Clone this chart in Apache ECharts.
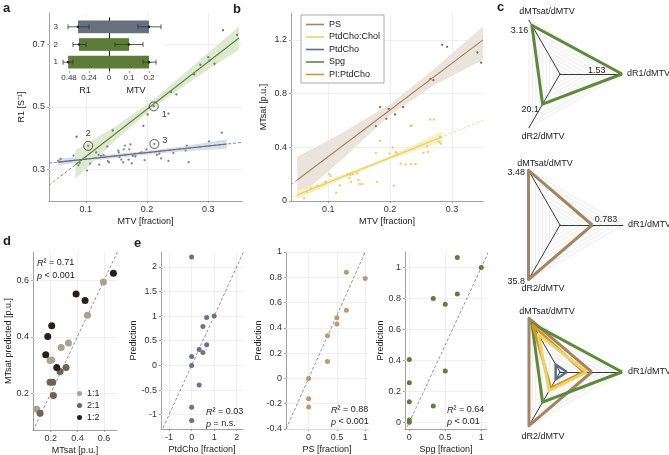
<!DOCTYPE html>
<html><head><meta charset="utf-8">
<script src="https://cdn.jsdelivr.net/npm/echarts@6/dist/echarts.min.js"></script>
<style>html,body{margin:0;padding:0;background:#fff}#c{width:669px;height:455px}</style>
</head><body><div id="c"></div>
<script>
// ================= DATA =================
// Panel a: R1 vs MTV
const aSpgMTV = [0.324,0.347,0.300,0.302,0.287,0.310,0.277,0.239,0.248,0.211,0.235,0.201,0.194,0.144,0.104,0.085];
const aSpgR1  = [0.745,0.730,0.659,0.648,0.635,0.638,0.604,0.548,0.540,0.502,0.479,0.476,0.440,0.425,0.376,0.405];
const aPtdMTV = [0.055,0.059,0.080,0.088,0.090,0.102,0.107,0.117,0.121,0.125,0.129,0.135,0.138,0.122,0.136,0.153,0.154,0.155,0.158,0.161,0.164,0.171,0.173,0.177,0.170,0.162,0.175,0.181,0.188,0.191,0.196,0.199,0.212,0.216,0.220,0.223,0.235,0.243,0.263,0.265,0.268,0.301,0.322];
const aPtdR1  = [0.328,0.334,0.345,0.314,0.321,0.297,0.319,0.355,0.347,0.344,0.347,0.374,0.323,0.316,0.327,0.361,0.355,0.340,0.332,0.323,0.377,0.365,0.381,0.344,0.332,0.365,0.320,0.342,0.353,0.355,0.330,0.365,0.382,0.347,0.351,0.336,0.328,0.353,0.361,0.377,0.324,0.390,0.418];
const aCircledMTV = [0.211, 0.104, 0.212];
const aCircledR1  = [0.502, 0.376, 0.382];
const aCircledLabels = ['1', '2', '3'];
const aSpgFitMTV = [0.083, 0.35];  const aSpgFitR1 = [0.316, 0.72];
const aSpgExtMTV = [0.04, 0.083];  const aSpgExtR1 = [0.25, 0.316];
const aSpgBandMTV = [0.083, 0.15, 0.21, 0.28, 0.35];
const aSpgBandLo  = [0.270, 0.396, 0.498, 0.594, 0.683];
const aSpgBandHi  = [0.362, 0.440, 0.522, 0.640, 0.757];
const aPtdFitMTV = [0.055, 0.33];  const aPtdFitR1 = [0.324, 0.382];
const aPtdExtMTV = [0.04, 0.355];  const aPtdExtR1 = [0.321, 0.387];
const aPtdBandMTV = [0.055, 0.12, 0.19, 0.26, 0.33];
const aPtdBandLo  = [0.314, 0.331, 0.346, 0.359, 0.367];
const aPtdBandHi  = [0.336, 0.345, 0.358, 0.375, 0.397];
const aMTVTicks = [0.1, 0.2, 0.3];
const aR1Ticks = [0.3, 0.5, 0.7];
// Panel a inset
const insetCats = ['1', '2', '3'];
const insetR1 = [0.49, 0.36, 0.372];
const insetR1Err = [[0.432, 0.552], [0.276, 0.432], [0.24, 0.492]];
const insetMTV = [0.2, 0.1, 0.2];
const insetMTVErr = [[0.17, 0.235], [0.03, 0.17], [0.145, 0.26]];
const insetR1Ticks = [0.24, 0.48];
const insetMTVTicks = [0, 0.1, 0.2];
// Panel b: MTsat vs MTV
const bPsMTV = [0.177,0.184,0.194,0.198,0.208,0.221,0.265,0.270,0.284,0.292,0.341,0.347];
const bPsMT  = [0.558,0.699,0.612,0.686,0.644,0.699,0.910,0.900,1.163,1.148,1.106,1.030];
const bCholMTV = [0.061,0.066,0.072,0.083,0.096,0.102,0.104,0.113,0.119,0.132,0.134,0.136,0.137,0.140,0.147,0.149,0.151,0.155,0.177,0.179,0.184,0.199,0.204,0.206,0.209,0.211,0.217,0.225,0.233,0.235,0.234,0.241,0.254,0.260,0.261,0.265,0.271,0.281,0.282,0.279];
const bCholMT  = [0.020,0.069,0.094,0.111,0.143,0.200,0.185,0.062,0.116,0.200,0.170,0.195,0.143,0.198,0.205,0.156,0.126,0.126,0.358,0.143,0.447,0.353,0.398,0.114,0.365,0.353,0.279,0.272,0.558,0.563,0.274,0.274,0.358,0.407,0.365,0.607,0.607,0.477,0.427,0.440];
const bPsFitMTV = [0.05, 0.35];  const bPsFitMT = [0.156, 1.2];
const bPsExtMTV = [0.04, 0.05];  const bPsExtMT = [0.121, 0.156];
const bPsBandMTV = [0.05, 0.12, 0.2, 0.27, 0.35];
const bPsBandLo  = [0.02, 0.30, 0.64, 0.86, 1.05];
const bPsBandHi  = [0.33, 0.50, 0.72, 0.98, 1.30];
const bCholFitMTV = [0.05, 0.284];  const bCholFitMT = [0.045, 0.478];
const bCholExtMTV = [0.04, 0.35];   const bCholExtMT = [0.026, 0.60];
const bCholBandMTV = [0.05, 0.12, 0.18, 0.24, 0.284];
const bCholBandLo  = [0.015, 0.16, 0.274, 0.375, 0.44];
const bCholBandHi  = [0.075, 0.19, 0.298, 0.42, 0.52];
const bMTVTicks = [0.1, 0.2, 0.3];
const bMTTicks = [0, 0.4, 0.8, 1.2];
const legendNames = ['PS', 'PtdCho:Chol', 'PtdCho', 'Spg', 'PI:PtdCho'];
// Panel c: radar
const radarIndicatorNames = ['dR1/dMTV', 'dMTsat/dMTV', 'dR2/dMTV'];
const radarMax = [1.53, 3.48, 35.8];
const radarSpg = [1.53, 3.16, 20.1];
const radarPS = [0.783, 3.48, 35.8];
const radarPIPtdCho = [0.58, 3.03, 10.7];
const radarCholPtdCho = [0.66, 2.44, 12.5];
const radarPtdCho = [0.17, 0.49, 5.0];
// Panel d
const dMeas11 = [0.095,0.595,0.475,0.278,0.333,0.195,0.208];
const dPred11 = [0.143,0.594,0.476,0.362,0.378,0.316,0.318];
const dMeas21 = [0.12,0.195,0.215,0.22,0.27,0.315];
const dPred21 = [0.129,0.239,0.239,0.192,0.277,0.291];
const dMeas12 = [0.67,0.39,0.4575,0.2075,0.1775,0.1625,0.245];
const dPred12 = [0.625,0.551,0.528,0.439,0.401,0.336,0.291];
const dTicks = [0.2, 0.4, 0.6];
// Panel e
const e1X = [0,0.667,1,0.5,0.667,0.333,0.5,0,0,0.333,0,0];
const e1Y = [2.2,0.97,1.0,0.79,0.42,0.32,0.26,0.18,0,-0.40,-0.85,-1.12];
const e2X = [0.667,1,0.667,0.5,0.5,0.333,0.333,0,0,0];
const e2Y = [0.84,0.79,0.54,0.48,0.43,0.337,0.133,0,-0.16,-0.225];
const e3X = [0.667,0.667,0.333,0.5,0,0.5,0,0,0.333,0,0,1];
const e3Y = [1.065,0.828,0.80,0.763,0.406,0.331,0.256,0.133,0.105,0.015,0.0,1.0];
const e1XTicks = [-1, 0, 1, 2];
const e1YTicks = [-1, -0.5, 0, 0.5, 1, 1.5, 2];
const e2XTicks = [0, 0.5, 1];
const e2YTicks = [-0.4, -0.2, 0, 0.2, 0.4, 0.6, 0.8, 1];
const e3XTicks = [0, 0.5, 1];
const e3YTicks = [0, 0.2, 0.4, 0.6, 0.8, 1];

// ================= STYLE / HELPERS =================
const FONT = '"Liberation Sans", Arial, Helvetica, sans-serif';
const C = {spg:'#5c8a3a', ptd:'#5f6c82', ps:'#a5845f', chol:'#eed264', pi:'#d4962c'};
const pair = (xs, ys) => xs.map((x, i) => [x, ys[i]]);
const fmt = v => String(+(+v).toFixed(3));

function valAxis(gi, min, max, ticks, name, nameGap, extra) {
  return Object.assign({
    type: 'value', gridIndex: gi, min: min, max: max,
    name: name || '', nameLocation: 'middle', nameGap: nameGap,
    nameTextStyle: {fontSize: 9, color: '#222', fontFamily: FONT},
    axisLine: {show: true, onZero: false, lineStyle: {color: '#8a8a8a', width: 0.8}},
    axisTick: {show: true, length: 2, customValues: ticks, lineStyle: {color: '#8a8a8a', width: 0.8}},
    axisLabel: {customValues: ticks, fontSize: 9, color: '#333', margin: 4, fontFamily: FONT, formatter: fmt},
    splitLine: {show: false}
  }, extra || {});
}
function gridLines(i, xs, ys) {
  return {type: 'line', xAxisIndex: i, yAxisIndex: i, data: [], symbol: 'none', silent: true, z: 1,
    lineStyle: {opacity: 0},
    markLine: {silent: true, z: 1, symbol: ['none', 'none'], animation: false, label: {show: false},
      lineStyle: {color: '#ebebeb', width: 0.8, type: 'solid'},
      data: xs.map(v => ({xAxis: v})).concat(ys.map(v => ({yAxis: v})))}};
}
function band(i, xs, lo, hi, color) {
  return {type: 'custom', xAxisIndex: i, yAxisIndex: i, silent: true, z: 1, data: [[xs[0], lo[0]]],
    renderItem: (params, api) => {
      const top = xs.map((x, k) => api.coord([x, hi[k]]));
      const bot = xs.map((x, k) => api.coord([x, lo[k]])).reverse();
      return {type: 'polygon', shape: {points: top.concat(bot)}, style: {fill: color}};
    }};
}
function line(i, data, color, width, type, name) {
  return {type: 'line', name: name, xAxisIndex: i, yAxisIndex: i, data: data, symbol: 'none', silent: true, z: 2,
    lineStyle: {color: color, width: width, type: type || 'solid'}, itemStyle: {color: color}};
}
function scatter(i, data, color, size, name) {
  return {type: 'scatter', name: name, xAxisIndex: i, yAxisIndex: i, data: data, symbol: 'circle', symbolSize: size,
    silent: true, z: 3, itemStyle: {color: color, opacity: 1, borderWidth: 0}};
}
function errSeries(i, errs, vals) {
  return {type: 'custom', xAxisIndex: i, yAxisIndex: i, silent: true, z: 7,
    data: errs.map((e, k) => [e[0], e[1], k, vals[k]]),
    encode: {x: [0, 1], y: 2},
    renderItem: (params, api) => {
      const a = api.coord([api.value(0), api.value(2)]);
      const b = api.coord([api.value(1), api.value(2)]);
      const m = api.coord([api.value(3), api.value(2)]);
      const st = {stroke: '#333', lineWidth: 0.8};
      return {type: 'group', children: [
        {type: 'line', shape: {x1: a[0], y1: a[1], x2: b[0], y2: b[1]}, style: st},
        {type: 'line', shape: {x1: a[0], y1: a[1] - 2.5, x2: a[0], y2: a[1] + 2.5}, style: st},
        {type: 'line', shape: {x1: b[0], y1: b[1] - 2.5, x2: b[0], y2: b[1] + 2.5}, style: st},
        {type: 'circle', shape: {cx: m[0], cy: m[1], r: 1.3}, style: {fill: '#222'}}
      ]};
    }};
}
function radarDef(cx, cy, r) {
  return {center: [cx, cy], radius: r, startAngle: 0, shape: 'polygon', splitNumber: 9, silent: true,
    indicator: radarIndicatorNames.map((n, k) => ({name: n, min: 0, max: radarMax[k]})),
    axisName: {show: false}, axisLabel: {show: false}, axisTick: {show: false},
    splitArea: {show: false}, splitLine: {lineStyle: {color: '#dddddd', width: 0.6}},
    axisLine: {lineStyle: {color: '#222', width: 0.9}}};
}
function radarSeries(ri, vals, color, width, label) {
  return {type: 'radar', radarIndex: ri, silent: true, symbol: 'circle', symbolSize: 1, z: 3,
    itemStyle: {color: 'rgba(0,0,0,0)'}, lineStyle: {color: color, width: width},
    label: label || {show: false}, data: [{value: vals}]};
}
function radarLabel(show, position, distance, offset) {
  return {show: true, position: position, distance: distance, offset: offset, fontSize: 9, color: '#222', fontFamily: FONT,
    formatter: p => (show.indexOf(p.value) >= 0 ? String(p.value) : '')};
}
function txt(x, y, text, o) {
  o = o || {};
  return {type: 'text', x: x, y: y, silent: true, z: 100,
    style: {text: text, fontSize: o.size || 9, fontWeight: o.weight || 'normal', fontFamily: FONT, fill: '#222',
      textAlign: o.align || 'left', align: o.align || 'left', textVerticalAlign: 'middle', verticalAlign: 'middle',
      rich: {i: {fontStyle: 'italic', fontSize: 9, fontFamily: FONT, fill: '#222', color: '#222'}}}};
}

// ================= LAYOUT =================
const grids = [
  {left: 49, top: 13, width: 193, height: 188},                      // a
  {left: 61, top: 18, width: 48, height: 53, show: true, backgroundColor: '#fff', borderWidth: 0, z: 5}, // inset R1
  {left: 109, top: 18, width: 54, height: 53, show: true, backgroundColor: '#fff', borderWidth: 0, z: 5}, // inset MTV
  {left: 291, top: 13, width: 192, height: 188},                     // b
  {left: 33, top: 252, width: 84, height: 178},                      // d
  {left: 161, top: 252, width: 82, height: 177},                     // e1
  {left: 286, top: 252, width: 82, height: 177},                     // e2
  {left: 405, top: 252, width: 82, height: 177}                      // e3
].map(g => Object.assign({outerBoundsMode: 'none', containLabel: false}, g));

const insetLabel = {fontSize: 8, color: '#333', margin: 3, fontFamily: FONT};
const xAxis = [
  valAxis(0, 0.04, 0.355, aMTVTicks, 'MTV [fraction]', 16),
  valAxis(1, 0, 0.576, insetR1Ticks, 'R1', 15, {inverse: true, z: 6,
    axisLabel: Object.assign({customValues: insetR1Ticks, formatter: fmt}, insetLabel),
    axisLine: {lineStyle: {color: '#555', width: 0.8}}}),
  valAxis(2, 0, 0.27, insetMTVTicks, 'MTV', 15, {z: 6,
    axisLabel: Object.assign({customValues: insetMTVTicks, formatter: fmt}, insetLabel),
    axisLine: {lineStyle: {color: '#555', width: 0.8}}}),
  valAxis(3, 0.04, 0.35, bMTVTicks, 'MTV [fraction]', 16),
  valAxis(4, 0.067, 0.697, dTicks, 'MTsat [p.u.]', 16),
  valAxis(5, -1.36, 2.28, e1XTicks, 'PtdCho [fraction]', 16),
  valAxis(6, -0.4, 1.05, e2XTicks, 'PS [fraction]', 16),
  valAxis(7, -0.06, 1.08, e3XTicks, 'Spg [fraction]', 16)
];
const yAxis = [
  valAxis(0, 0.2, 0.8, aR1Ticks, 'R1 [S\u207B\u00B9]', 23),
  {type: 'category', gridIndex: 1, data: insetCats, z: 6,
    axisLine: {lineStyle: {color: '#555', width: 0.8}}, axisTick: {show: false},
    axisLabel: insetLabel, splitLine: {show: false}},
  {type: 'category', gridIndex: 2, data: insetCats, z: 6,
    axisLine: {lineStyle: {color: '#111', width: 1}}, axisTick: {show: false},
    axisLabel: {show: false}, splitLine: {show: false}},
  valAxis(3, 0, 1.4, bMTTicks, 'MTsat [p.u.]', 23),
  valAxis(4, 0.07, 0.70, dTicks, 'MTsat predicted [p.u.]', 17),
  valAxis(5, -1.29, 2.3, e1YTicks, 'Prediction', 19),
  valAxis(6, -0.4, 1.0, e2YTicks, 'Prediction', 22),
  valAxis(7, -0.043, 1.1, e3YTicks, 'Prediction', 19)
];

// ================= SERIES =================
const series = [];
// --- a
series.push(gridLines(0, aMTVTicks, aR1Ticks));
series.push(band(0, aPtdBandMTV, aPtdBandLo, aPtdBandHi, '#d9dde7'));
series.push(band(0, aSpgBandMTV, aSpgBandLo, aSpgBandHi, '#dfe9d2'));
series.push(line(0, pair(aSpgExtMTV, aSpgExtR1), C.spg, 0.8, [3, 2]));
series.push(line(0, pair(aPtdExtMTV, aPtdExtR1), C.ptd, 0.8, [3, 2]));
series.push(line(0, pair(aSpgFitMTV, aSpgFitR1), C.spg, 1.2));
series.push(line(0, pair(aPtdFitMTV, aPtdFitR1), C.ptd, 1.2));
series.push(scatter(0, pair(aPtdMTV, aPtdR1), '#858585', 2.3));
series.push(scatter(0, pair(aSpgMTV, aSpgR1), '#6e7c62', 2.3));
const circPos = ['right', 'top', 'right'];
const circOff = [[0, 8], [0, 0], [0, -3]];
series.push({type: 'scatter', xAxisIndex: 0, yAxisIndex: 0, silent: true, z: 4, symbol: 'circle', symbolSize: 9,
  itemStyle: {color: 'rgba(0,0,0,0)', borderColor: '#333', borderWidth: 0.8, opacity: 1},
  data: aCircledMTV.map((x, k) => ({value: [x, aCircledR1[k]], name: aCircledLabels[k],
    label: {show: true, position: circPos[k], offset: circOff[k], distance: 3, fontSize: 9, color: '#333', fontFamily: FONT,
      formatter: p => p.name}}))});
// --- inset
const insetColors = ['#5c7d37', '#5c7d37', '#66707f'];
series.push({type: 'bar', xAxisIndex: 1, yAxisIndex: 1, silent: true, z: 6, barWidth: '72%',
  data: insetR1.map((v, k) => ({value: v, itemStyle: {color: insetColors[k]}}))});
series.push({type: 'bar', xAxisIndex: 2, yAxisIndex: 2, silent: true, z: 6, barWidth: '72%',
  data: insetMTV.map((v, k) => ({value: v, itemStyle: {color: insetColors[k]}}))});
series.push(errSeries(1, insetR1Err, insetR1));
series.push(errSeries(2, insetMTVErr, insetMTV));
// --- b
series.push(gridLines(3, bMTVTicks, bMTTicks.slice(1)));
series.push(band(3, bPsBandMTV, bPsBandLo, bPsBandHi, '#ebe4dc'));
series.push(band(3, bCholBandMTV, bCholBandLo, bCholBandHi, '#f8efc4'));
series.push(line(3, pair(bPsExtMTV, bPsExtMT), C.ps, 0.8, [3, 2]));
series.push(line(3, pair(bCholExtMTV, bCholExtMT), C.chol, 0.8, [3, 2]));
series.push(line(3, pair(bPsFitMTV, bPsFitMT), C.ps, 1.2, 'solid', 'PS'));
series.push(line(3, pair(bCholFitMTV, bCholFitMT), C.chol, 1.4, 'solid', 'PtdCho:Chol'));
series.push(line(3, [], C.ptd, 1.2, 'solid', 'PtdCho'));
series.push(line(3, [], C.spg, 1.2, 'solid', 'Spg'));
series.push(line(3, [], C.pi, 1.2, 'solid', 'PI:PtdCho'));
series.push(scatter(3, pair(bCholMTV, bCholMT), '#e2cb68', 2.3));
series.push(scatter(3, pair(bPsMTV, bPsMT), '#7e6c5a', 2.3));
// --- c radars
series.push(radarSeries(0, radarSpg, C.spg, 3, radarLabel([3.16, 20.1], 'left', 3, [0, 5])));
series.push(radarSeries(0, radarSpg, 'rgba(0,0,0,0)', 0, radarLabel([1.53], 'left', 16, [0, -3])));
series.push(radarSeries(1, radarPS, C.ps, 3, radarLabel([3.48, 35.8], 'left', 3, [0, 2])));
series.push(radarSeries(1, radarPS, 'rgba(0,0,0,0)', 0, radarLabel([0.783], 'right', 2, [0, -5])));
series.push(radarSeries(2, radarPS, C.ps, 3));
series.push(radarSeries(2, radarSpg, C.spg, 3));
series.push(radarSeries(2, radarPIPtdCho, C.pi, 3));
series.push(radarSeries(2, radarCholPtdCho, C.chol, 3));
series.push(radarSeries(2, radarPtdCho, C.ptd, 2.5));
// --- d
series.push(gridLines(4, dTicks, dTicks));
series.push(line(4, [[0.067, 0.067], [0.7, 0.7]], '#777', 0.8, [3, 2]));
series.push(scatter(4, pair(dMeas11, dPred11), '#a7a48d', 7, '1:1'));
series.push(scatter(4, pair(dMeas21, dPred21), '#6f6257', 7, '2:1'));
series.push(scatter(4, pair(dMeas12, dPred12), '#2a1e1b', 7, '1:2'));
// --- e
series.push(gridLines(5, e1XTicks, e1YTicks));
series.push(line(5, [[-1.36, -1.36], [2.3, 2.3]], '#777', 0.8, [3, 2]));
series.push(scatter(5, pair(e1X, e1Y), '#6b7486', 5));
series.push(gridLines(6, e2XTicks, e2YTicks));
series.push(line(6, [[-0.4, -0.4], [1.05, 1.05]], '#777', 0.8, [3, 2]));
series.push(scatter(6, pair(e2X, e2Y), '#b89b73', 5));
series.push(gridLines(7, e3XTicks, e3YTicks));
series.push(line(7, [[-0.06, -0.06], [1.1, 1.1]], '#777', 0.8, [3, 2]));
series.push(scatter(7, pair(e3X, e3Y), '#5d7f3a', 5));

// ================= TEXT =================
const graphic = [
  txt(3, 8, 'a', {size: 13, weight: 'bold'}),
  txt(233, 9, 'b', {size: 13, weight: 'bold'}),
  txt(497, 7, 'c', {size: 13, weight: 'bold'}),
  txt(3, 241, 'd', {size: 13, weight: 'bold'}),
  txt(134, 243, 'e', {size: 13, weight: 'bold'}),
  // radar names
  txt(547, 12, 'dMTsat/dMTV', {align: 'center'}),
  txt(627, 74, 'dR1/dMTV'),
  txt(543, 137, 'dR2/dMTV', {align: 'center'}),
  txt(545, 164, 'dMTsat/dMTV', {align: 'center'}),
  txt(628, 225, 'dR1/dMTV'),
  txt(543, 289, 'dR2/dMTV', {align: 'center'}),
  txt(547, 312, 'dMTsat/dMTV', {align: 'center'}),
  txt(628, 372, 'dR1/dMTV'),
  txt(543, 437, 'dR2/dMTV', {align: 'center'}),
  // statistics
  txt(37, 263, '{i|R}\u00B2 = 0.71'),
  txt(37, 276, '{i|p} < 0.001'),
  txt(206, 412, '{i|R}\u00B2 = 0.03'),
  txt(206, 424, '{i|p} = n.s.'),
  txt(331, 410, '{i|R}\u00B2 = 0.88'),
  txt(331, 422, '{i|p} < 0.001'),
  txt(447, 410, '{i|R}\u00B2 = 0.64'),
  txt(447, 422, '{i|p} < 0.01')
];

const option = {
  animation: false,
  textStyle: {fontFamily: FONT},
  grid: grids, xAxis: xAxis, yAxis: yAxis,
  radar: [radarDef(560, 74, 62), radarDef(560, 225, 63), radarDef(560, 372, 62)],
  legend: [
    {data: legendNames, orient: 'vertical', left: 301, top: 15, selectedMode: false, z: 20,
      icon: 'rect', itemWidth: 18, itemHeight: 1.6, itemGap: 1.5, padding: [4, 4, 3, 5],
      backgroundColor: '#fff', borderColor: '#888', borderWidth: 0.7,
      textStyle: {fontSize: 9, color: '#222', lineHeight: 11, fontFamily: FONT}},
    {data: ['1:1', '2:1', '1:2'], orient: 'vertical', left: 77, top: 388, selectedMode: false, z: 20,
      icon: 'circle', itemWidth: 5, itemHeight: 5, itemGap: 1, padding: 0,
      textStyle: {fontSize: 9, color: '#222', lineHeight: 11, fontFamily: FONT}}
  ],
  graphic: graphic,
  series: series
};
const chart = echarts.init(document.getElementById('c'), null, {renderer: 'canvas'});
chart.setOption(option);
</script></body></html>
